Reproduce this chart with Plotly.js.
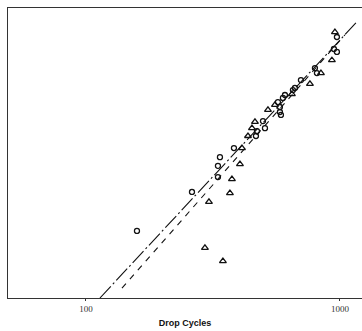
<!DOCTYPE html>
<html>
<head>
<meta charset="utf-8">
<script src="https://cdn.plot.ly/plotly-3.0.1.min.js"></script>
<style>html,body{margin:0;padding:0;background:#fff;}#chart{width:362px;height:331px;}</style>
</head>
<body>
<div id="chart"></div>
<script>
// Drop cycles (x) vs. Weibull-transformed unreliability ln(-ln(1-F)) (y)
const circleCycles = [158.8, 261.5, 330.9, 330.9, 337.0, 382.6, 467.1, 471.4, 497.8, 506.9, 570.1, 580.5, 580.5, 585.8, 596.5, 607.5, 653.1, 665.0, 702.3, 797.4, 812.0, 947.1, 973.2, 973.2];
const circleY      = [-3.38, -2.44, -2.08, -1.81, -1.60, -1.38, -1.09, -0.97, -0.73, -0.90, -0.27, -0.39, -0.51, -0.58, -0.17, -0.10, 0.02, 0.07, 0.26, 0.55, 0.43, 1.01, 0.94, 1.30];

const triCycles = [294.1, 346.2, 305.0, 368.9, 375.7, 404.0, 411.5, 434.5, 450.5, 462.9, 520.8, 554.9, 647.1, 762.0, 842.1, 930.0, 955.7];
const triY      = [-3.79, -4.11, -2.68, -2.47, -2.13, -1.77, -1.38, -1.09, -0.90, -0.75, -0.46, -0.34, -0.08, 0.17, 0.43, 0.74, 1.42];

const fitA_x = [113.5, 1156];
const fitA_y = [-5.0, 1.64];
const fitB_x = [138.6, 1046];
const fitB_y = [-4.76, 1.35];

const xTickVals = [100, 1000];
const xTickText = ['100', '1000'];

const traces = [
  {x: fitA_x, y: fitA_y, mode: 'lines', line: {color: '#111', width: 1.1, dash: '16px,3px,2px,3px'}, hoverinfo: 'skip'},
  {x: fitB_x, y: fitB_y, mode: 'lines', line: {color: '#111', width: 1.1, dash: '6px,6px'}, hoverinfo: 'skip'},
  {x: circleCycles, y: circleY, mode: 'markers', marker: {symbol: 'circle-open', size: 5, color: '#111', line: {width: 1.3, color: '#111'}}},
  {x: triCycles, y: triY, mode: 'markers', marker: {symbol: 'triangle-up-open', size: 6, color: '#111', line: {width: 1.3, color: '#111'}}}
];

const layout = {
  width: 362, height: 331,
  margin: {l: 8, r: 0, t: 8, b: 33},
  paper_bgcolor: '#fff', plot_bgcolor: '#fff',
  showlegend: false,
  font: {family: 'Liberation Serif, serif', color: '#222', size: 9},
  xaxis: {
    type: 'log', range: [1.693, 3.087],
    tickvals: xTickVals, ticktext: xTickText,
    ticks: 'outside', ticklen: 2, tickcolor: '#333',
    showgrid: false, zeroline: false,
    showline: true, linecolor: '#333', linewidth: 1, mirror: true,
    tickfont: {family: 'Liberation Serif, serif', size: 9, color: '#333'},
    title: {text: 'Drop Cycles', font: {family: 'Liberation Sans, Arial, sans-serif', size: 9, color: '#111', weight: 'bold'}, standoff: 6}
  },
  yaxis: {
    range: [-5, 2],
    showticklabels: false, ticks: '',
    showgrid: false, zeroline: false,
    showline: true, linecolor: '#333', linewidth: 1
  }
};

Plotly.newPlot('chart', traces, layout, {displayModeBar: false, staticPlot: true});
</script>
</body>
</html>
